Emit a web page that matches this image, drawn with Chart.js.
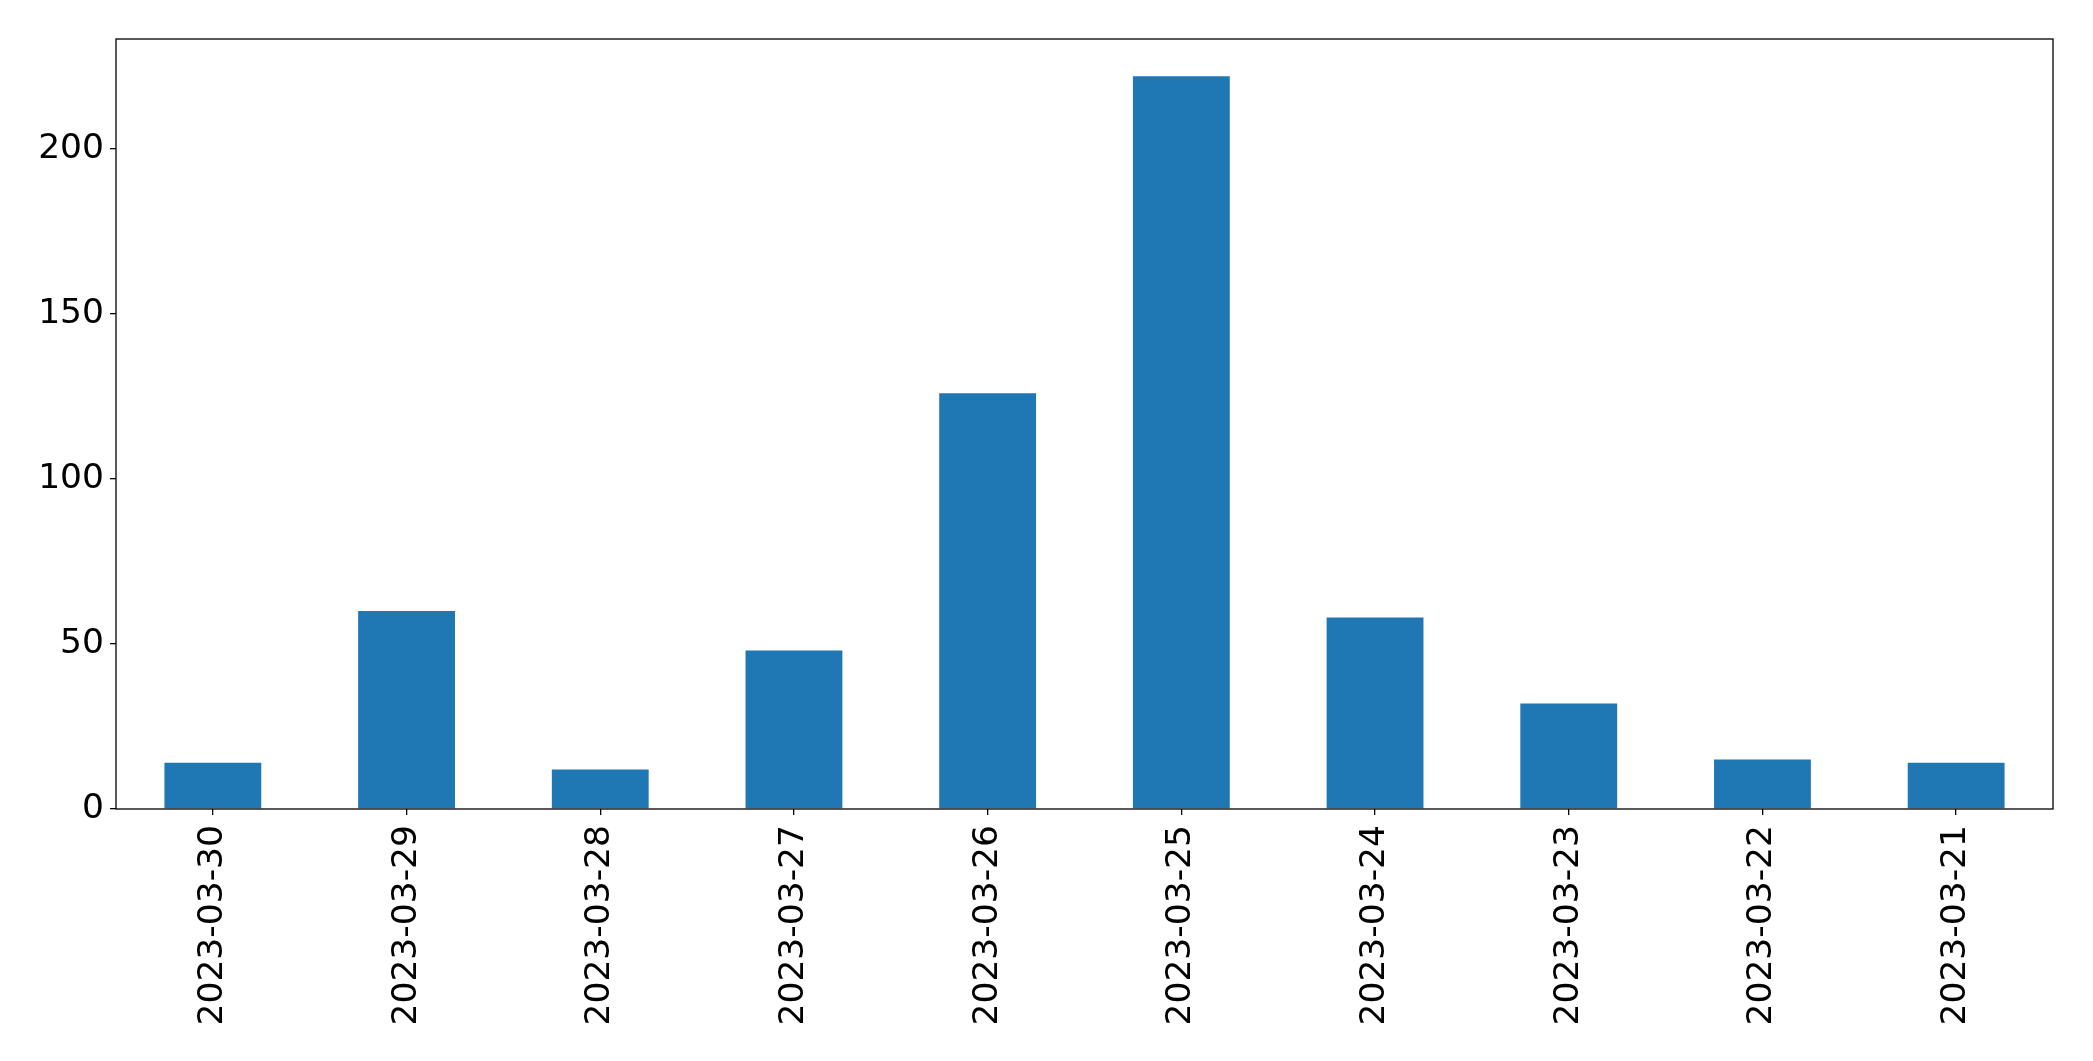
<!DOCTYPE html>
<html>
<head>
    <title>Daily counts</title>
    <script src="https://cdn.jsdelivr.net/npm/chart.js"></script>
    <style>
        html, body { margin: 0; padding: 0; background: #fff; }
        #wrap { width: 2093px; height: 1061px; }
    </style>
</head>
<body>
    <div id="wrap"><canvas id="myChart"></canvas></div>
    <script>
    const dates = ['2023-03-30', '2023-03-29', '2023-03-28', '2023-03-27', '2023-03-26',
                   '2023-03-25', '2023-03-24', '2023-03-23', '2023-03-22', '2023-03-21'];
    const counts = [14, 60, 12, 48, 126, 222, 58, 32, 15, 14];
    const yTicks = [0, 50, 100, 150, 200];

    // frame around the plot area, like matplotlib spines
    const frame = {
        id: 'frame',
        afterDraw(chart) {
            const a = chart.chartArea;
            const c = chart.ctx;
            c.save();
            c.strokeStyle = '#000';
            c.lineWidth = 1.3;
            c.strokeRect(a.left, a.top, a.right - a.left, a.bottom - a.top);
            c.restore();
        }
    };

    const ctx = document.getElementById('myChart').getContext('2d');
    new Chart(ctx, {
        type: 'bar',
        data: {
            labels: dates,
            datasets: [{
                data: counts,
                backgroundColor: '#1f77b4',
                categoryPercentage: 1.0,
                barPercentage: 0.5
            }]
        },
        options: {
            responsive: true,
            maintainAspectRatio: false,
            animation: false,
            layout: { padding: { top: 39, right: 40, bottom: 0, left: 0 } },
            plugins: { legend: { display: false }, tooltip: { enabled: false } },
            scales: {
                x: {
                    grid: { offset: false, drawOnChartArea: false, drawTicks: true, tickLength: 6, color: '#000', lineWidth: 1.3 },
                    border: { display: false },
                    ticks: {
                        color: '#000',
                        font: { family: 'DejaVu Sans', size: 34.5 },
                        maxRotation: 90,
                        minRotation: 90,
                        padding: 10
                    },
                    afterFit(axis) { axis.height = 252; }
                },
                y: {
                    min: 0,
                    max: 233.3,
                    grid: { drawOnChartArea: false, drawTicks: true, tickLength: 6, color: '#000', lineWidth: 1.3 },
                    border: { display: false },
                    ticks: {
                        color: '#000',
                        font: { family: 'DejaVu Sans', size: 34.5 },
                        padding: 6
                    },
                    afterBuildTicks(axis) { axis.ticks = yTicks.map(v => ({ value: v })); },
                    afterFit(axis) { axis.width = 116; }
                }
            }
        },
        plugins: [frame]
    });
    </script>
</body>
</html>
